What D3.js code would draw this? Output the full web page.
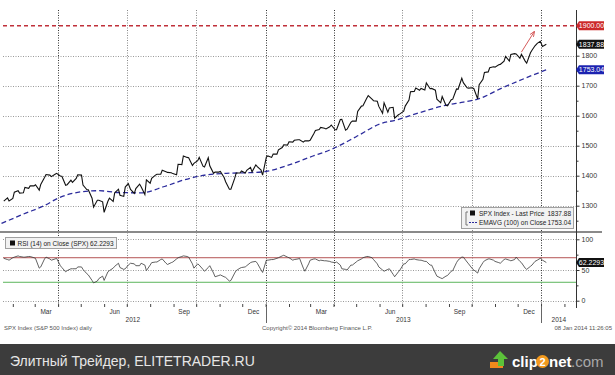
<!DOCTYPE html>
<html>
<head>
<meta charset="utf-8">
<script src="https://cdn.jsdelivr.net/npm/d3@7"></script>
<style>
  body { margin: 0; background: #fff; }
  svg { display: block; }
  text { font-family: "Liberation Sans", Arial, sans-serif; }
</style>
</head>
<body>
<svg id="chart" width="615" height="375"></svg>
<script>
// Friday closes
const dates = [
  "2012-01-20","2012-01-27","2012-02-03","2012-02-10","2012-02-17","2012-02-24","2012-03-02","2012-03-09","2012-03-16","2012-03-23",
  "2012-03-30","2012-04-06","2012-04-13","2012-04-20","2012-04-27","2012-05-04","2012-05-11","2012-05-18","2012-05-25","2012-06-01",
  "2012-06-08","2012-06-15","2012-06-22","2012-06-29","2012-07-06","2012-07-13","2012-07-20","2012-07-27","2012-08-03","2012-08-10",
  "2012-08-17","2012-08-24","2012-08-31","2012-09-07","2012-09-14","2012-09-21","2012-09-28","2012-10-05","2012-10-12","2012-10-19",
  "2012-10-26","2012-11-02","2012-11-09","2012-11-16","2012-11-23","2012-11-30","2012-12-07","2012-12-14","2012-12-21","2012-12-28",
  "2013-01-04","2013-01-11","2013-01-18","2013-01-25","2013-02-01","2013-02-08","2013-02-15","2013-02-22","2013-03-01","2013-03-08",
  "2013-03-15","2013-03-22","2013-03-29","2013-04-05","2013-04-12","2013-04-19","2013-04-26","2013-05-03","2013-05-10","2013-05-17",
  "2013-05-24","2013-05-31","2013-06-07","2013-06-14","2013-06-21","2013-06-28","2013-07-05","2013-07-12","2013-07-19","2013-07-26",
  "2013-08-02","2013-08-09","2013-08-16","2013-08-23","2013-08-30","2013-09-06","2013-09-13","2013-09-20","2013-09-27","2013-10-04",
  "2013-10-11","2013-10-18","2013-10-25","2013-11-01","2013-11-08","2013-11-15","2013-11-22","2013-11-29","2013-12-06","2013-12-13",
  "2013-12-20","2013-12-27","2014-01-03","2014-01-08"
];
const spx = [
  1315,1316,1345,1342,1361,1366,1370,1371,1404,1397,1408,1398,1370,1378,1403,1369,1353,1295,1318,1278,
  1325,1343,1335,1362,1354,1357,1363,1386,1391,1405,1418,1411,1407,1438,1466,1460,1441,1461,1429,1433,
  1412,1414,1380,1355,1409,1416,1418,1413,1430,1402,
  1466,1472,1486,1503,1513,1518,1520,1516,1518,1551,1561,1556,1569,1553,1588,1555,1582,1614,1633,1667,
  1650,1631,1643,1626,1592,1606,1632,1680,1692,1691,1709,1691,1655,1664,1633,1655,1688,1710,1692,1690,
  1703,1744,1760,1762,1771,1798,1804,1806,1805,1775,1818,1841,
  1831,1837.88
];
const rsi = [
  69,66,71,72,71,72,69,55,71,66,69,54,49,52,55,51,42,29,36,33,
  49,56,54,52,61,57,61,49,62,63,68,59,63,70,73,71,53,58,48,57,
  39,42,38,33,49,54,57,63,61,46,
  66,67,70,74,70,67,69,48,66,68,66,65,63,63,52,50,58,65,70,72,
  67,55,48,52,39,50,60,67,67,66,64,58,40,36,41,49,66,71,60,50,
  52,65,68,64,61,68,65,71,62,51,58,66,
  66,62.2293
];
// mid-week (Wednesday) readings
const midDates = [
  "2012-01-25","2012-02-01","2012-02-08","2012-02-15","2012-02-22","2012-02-29","2012-03-07","2012-03-14","2012-03-21","2012-03-28",
  "2012-04-04","2012-04-11","2012-04-18","2012-04-25","2012-05-02","2012-05-09","2012-05-16","2012-05-23","2012-05-30","2012-06-06",
  "2012-06-13","2012-06-20","2012-06-27","2012-07-03","2012-07-11","2012-07-18","2012-07-25","2012-08-01","2012-08-08","2012-08-15",
  "2012-08-22","2012-08-29","2012-09-05","2012-09-12","2012-09-19","2012-09-26","2012-10-03","2012-10-10","2012-10-17","2012-10-24",
  "2012-10-31","2012-11-07","2012-11-14","2012-11-21","2012-11-28","2012-12-05","2012-12-12","2012-12-19","2012-12-26","2013-01-02",
  "2013-01-09","2013-01-16","2013-01-23","2013-01-30","2013-02-06","2013-02-13","2013-02-20","2013-02-27","2013-03-06","2013-03-13",
  "2013-03-20","2013-03-27","2013-04-03","2013-04-10","2013-04-17","2013-04-24","2013-05-01","2013-05-08","2013-05-15","2013-05-22",
  "2013-05-29","2013-06-05","2013-06-12","2013-06-19","2013-06-26","2013-07-03","2013-07-10","2013-07-17","2013-07-24","2013-07-31",
  "2013-08-07","2013-08-14","2013-08-21","2013-08-28","2013-09-04","2013-09-11","2013-09-18","2013-09-25","2013-10-02","2013-10-09",
  "2013-10-16","2013-10-23","2013-10-30","2013-11-06","2013-11-13","2013-11-20","2013-11-27","2013-12-04","2013-12-11","2013-12-18",
  "2013-12-24","2013-12-31"
];
const spxMid = [
  1326,1324,1350,1343,1358,1366,1352,1394,1402,1405,1399,1368,1385,1391,1402,1354,1325,1318,1313,1315,
  1314,1355,1331,1374,1341,1372,1337,1375,1402,1405,1413,1410,1403,1437,1461,1434,1450,1432,1460,1408,
  1412,1394,1355,1391,1409,1409,1428,1436,1419,1462,
  1461,1472,1494,1502,1512,1520,1512,1516,1541,1554,1558,1563,1553,1587,1552,1578,1582,1632,1658,1655,
  1648,1608,1612,1628,1603,1615,1652,1681,1685,1686,1690,1685,1643,1635,1653,1689,1725,1693,1693,1656,
  1721,1746,1763,1770,1782,1782,1807,1792,1782,1810,1833,1848
];
const rsiMid = [
  67,70,73,71,72,70,53,68,68,68,57,47,52,52,55,44,33,32,40,47,
  53,61,51,58,60,57,58,58,63,67,61,62,68,72,72,60,60,51,54,45,
  41,39,32,45,53,55,62,64,50,66,
  67,69,73,71,66,68,53,60,68,65,65,64,62,58,51,58,63,68,72,70,
  60,50,51,43,47,60,67,68,66,64,58,45,37,40,48,62,71,63,52,45,
  62,68,66,62,67,66,67,64,53,56,64,69
];
// EMA(100) read at a few points along the dashed line
const emaDates = [
  "2012-01-17","2012-02-15","2012-03-15","2012-04-01","2012-05-01","2012-05-25","2012-06-20","2012-07-20","2012-08-20",
  "2012-09-15","2012-10-10","2012-11-10","2012-12-10","2013-01-01","2013-02-01","2013-03-01","2013-04-01","2013-05-01",
  "2013-06-01","2013-06-25","2013-07-25","2013-08-30","2013-09-20","2013-10-10","2013-11-10","2013-12-10","2014-01-08"
];
const ema = [
  1241,1272,1302,1325,1346,1350,1344,1343,1364,
  1386,1401,1408,1410,1414,1436,1462,1491,1530,
  1572,1587,1611,1636,1645,1656,1692,1724,1753.04
];

const priceTicks = [1300, 1400, 1500, 1600, 1700, 1800];
const priceMinor = [1250, 1350, 1450, 1550, 1650, 1750, 1850];
const rsiTicks = [0, 50, 100];
const rsiMinor = [25, 75];
const gridDates = ["2012-04-01","2012-07-01","2012-10-01","2013-01-01","2013-04-01","2013-07-01","2013-10-01","2014-01-01"];
const monthLabelDates = ["2012-03-16","2012-06-15","2012-09-15","2012-12-16","2013-03-16","2013-06-15","2013-09-15","2013-12-16"];
const yearLabels = ["2012", "2013", "2014"];
const yearStarts = ["2012-01-15", "2013-01-01", "2014-01-01", "2014-02-17"];

const target = 1900;
const lastPrice = 1837.88;
const lastEma = 1753.04;
const lastRsi = 62.2293;

const parse = d3.timeParse("%Y-%m-%d");
const svg = d3.select("#chart");

const axisX = 576.5, plotTop = 10, plotBottom = 306;
const x = d3.scaleTime().domain([parse("2012-01-15"), parse("2014-02-17")]).range([0, axisX]);
const yP = d3.scaleLinear().domain([1300, 1900]).range([205.7, 25.7]);
const yR = d3.scaleLinear().domain([0, 100]).range([300.7, 239.3]);

svg.append("rect").attr("width", 615).attr("height", 375).attr("fill", "#fff");

// horizontal grid, price panel
svg.append("g").selectAll("line").data(priceTicks).join("line")
  .attr("x1", 3).attr("x2", axisX)
  .attr("y1", d => Math.round(yP(d)) + 0.5).attr("y2", d => Math.round(yP(d)) + 0.5)
  .attr("stroke", "#9a9a9a").attr("stroke-dasharray", "1,1.5");

// horizontal grid, rsi panel
svg.append("g").selectAll("line").data(rsiTicks).join("line")
  .attr("x1", 3).attr("x2", axisX)
  .attr("y1", d => Math.round(yR(d)) + 0.5).attr("y2", d => Math.round(yR(d)) + 0.5)
  .attr("stroke", "#9a9a9a").attr("stroke-dasharray", "1,1.5");

// vertical grid at quarter starts
svg.append("g").selectAll("line").data(gridDates).join("line")
  .attr("x1", d => Math.round(x(parse(d))) + 0.5).attr("x2", d => Math.round(x(parse(d))) + 0.5)
  .attr("y1", plotTop).attr("y2", plotBottom)
  .attr("stroke", d => d.endsWith("01-01") || d.endsWith("04-01") ? "#333" : "#888")
  .attr("stroke-dasharray", "1,1.5");

// overbought / oversold levels
svg.append("line").attr("x1", 3).attr("x2", axisX)
  .attr("y1", yR(70)).attr("y2", yR(70)).attr("stroke", "#b45454").attr("stroke-width", 1);
svg.append("line").attr("x1", 3).attr("x2", axisX)
  .attr("y1", yR(30)).attr("y2", yR(30)).attr("stroke", "#5bb55b").attr("stroke-width", 1);

// 1900 target line
svg.append("line").attr("x1", 3).attr("x2", axisX)
  .attr("y1", yP(target)).attr("y2", yP(target))
  .attr("stroke", "#c0303a").attr("stroke-width", 1.6).attr("stroke-dasharray", "4,3");

// EMA
const emaData = emaDates.map((d, i) => ({ date: parse(d), v: ema[i] }));
svg.append("path").datum(emaData)
  .attr("fill", "none").attr("stroke", "#2c2c9c").attr("stroke-width", 1.3)
  .attr("stroke-dasharray", "5,3")
  .attr("d", d3.line().x(d => x(d.date)).y(d => yP(d.v)).curve(d3.curveMonotoneX));

// price: Friday and mid-week readings merged in time order
const priceData = dates.map((d, i) => ({ date: parse(d), v: spx[i] }))
  .concat(midDates.map((d, i) => ({ date: parse(d), v: spxMid[i] })))
  .sort((a, b) => a.date - b.date);
svg.append("path").datum(priceData)
  .attr("fill", "none").attr("stroke", "#111").attr("stroke-width", 1.1)
  .attr("stroke-linejoin", "miter")
  .attr("d", d3.line().x(d => x(d.date)).y(d => yP(d.v)));

// rsi
const rsiData = dates.map((d, i) => ({ date: parse(d), v: rsi[i] }))
  .concat(midDates.map((d, i) => ({ date: parse(d), v: rsiMid[i] })))
  .sort((a, b) => a.date - b.date);
svg.append("path").datum(rsiData)
  .attr("fill", "none").attr("stroke", "#3a3a3a").attr("stroke-width", 0.8)
  .attr("d", d3.line().x(d => x(d.date)).y(d => yR(d.v)));

// red arrow toward the target
svg.append("defs").append("marker")
  .attr("id", "ah").attr("viewBox", "0 0 10 10").attr("refX", 9).attr("refY", 5)
  .attr("markerWidth", 6).attr("markerHeight", 6).attr("orient", "auto")
  .append("path").attr("d", "M0,1 L10,5 L0,9").attr("fill", "none").attr("stroke", "#d04848").attr("stroke-width", 1.5);
svg.append("line")
  .attr("x1", x(parse("2013-12-06"))).attr("y1", yP(1812))
  .attr("x2", x(parse("2013-12-23"))).attr("y2", yP(1880))
  .attr("stroke", "#d04848").attr("stroke-width", 0.9).attr("marker-end", "url(#ah)");

// panel separator
svg.append("line").attr("x1", 0).attr("x2", 602).attr("y1", 232).attr("y2", 232)
  .attr("stroke", "#8a8a8a").attr("stroke-width", 2);

// right axis line
svg.append("line").attr("x1", axisX).attr("x2", axisX).attr("y1", plotTop).attr("y2", plotBottom + 2)
  .attr("stroke", "#333");

function styleAxis(g) {
  g.select(".domain").remove();
  g.selectAll(".tick line").attr("stroke", "#333");
  g.selectAll(".tick text").attr("fill", "#333").attr("font-size", 7).attr("x", 5);
}
svg.append("g").attr("transform", `translate(${axisX},0)`)
  .call(d3.axisRight(yP).tickValues(priceTicks).tickSize(3).tickFormat(d3.format("d"))).call(styleAxis);
svg.append("g").attr("transform", `translate(${axisX},0)`)
  .call(d3.axisRight(yP).tickValues(priceMinor).tickSize(2).tickFormat("")).call(styleAxis);
svg.append("g").attr("transform", `translate(${axisX},0)`)
  .call(d3.axisRight(yR).tickValues(rsiTicks).tickSize(3).tickFormat(d3.format("d"))).call(styleAxis);
svg.append("g").attr("transform", `translate(${axisX},0)`)
  .call(d3.axisRight(yR).tickValues(rsiMinor).tickSize(2).tickFormat("")).call(styleAxis);

// bottom time axis: month ticks
svg.append("g").attr("transform", `translate(0,${plotBottom - 2})`)
  .call(d3.axisBottom(x).ticks(d3.timeMonth.every(1)).tickSize(3).tickFormat(""))
  .call(g => { g.select(".domain").remove(); g.selectAll(".tick line").attr("stroke", "#444"); });

// year boundaries
svg.append("g").selectAll("line").data(yearStarts.slice(1, 3)).join("line")
  .attr("x1", d => Math.round(x(parse(d))) + 0.5).attr("x2", d => Math.round(x(parse(d))) + 0.5)
  .attr("y1", plotBottom).attr("y2", 323).attr("stroke", "#666");

svg.append("g").selectAll("text").data(monthLabelDates).join("text")
  .attr("x", d => x(parse(d))).attr("y", 314)
  .attr("text-anchor", "middle").attr("font-size", 6.5).attr("fill", "#333")
  .text(d => d3.timeFormat("%b")(parse(d)));

svg.append("g").selectAll("text").data(yearLabels).join("text")
  .attr("x", (d, i) => (x(parse(yearStarts[i])) + x(parse(yearStarts[i + 1]))) / 2).attr("y", 322)
  .attr("text-anchor", "middle").attr("font-size", 6.5).attr("fill", "#333")
  .text(d => d);

// value tags on the right
function tag(yv, label, color) {
  const g = svg.append("g").attr("transform", `translate(578,${yv})`);
  g.append("path").attr("d", "M-2,0 L1,-4.5 L26,-4.5 L26,4.5 L1,4.5 Z").attr("fill", color);
  g.append("text").attr("x", 13.5).attr("y", 2.5).attr("text-anchor", "middle")
    .attr("font-size", 7).attr("fill", "#fff").text(label);
}
tag(yP(target), d3.format(".2f")(target), "#cc2a2a");
tag(yP(lastPrice), d3.format(".2f")(lastPrice), "#111");
tag(yP(lastEma), d3.format(".2f")(lastEma), "#1c23b0");
tag(yR(lastRsi), d3.format(".4f")(lastRsi), "#111");

// price legend
const lg = svg.append("g");
lg.append("rect").attr("x", 461.5).attr("y", 207.5).attr("width", 112).attr("height", 21)
  .attr("fill", "#f2f2f2").attr("stroke", "#a0a0a0");
lg.append("path").attr("d", "M468,212 L466,212 L466,225 L468,225").attr("fill", "none").attr("stroke", "#777");
lg.append("rect").attr("x", 470).attr("y", 210.5).attr("width", 5).attr("height", 5).attr("fill", "#111");
lg.append("line").attr("x1", 469).attr("x2", 477).attr("y1", 222.5).attr("y2", 222.5)
  .attr("stroke", "#2c2c9c").attr("stroke-dasharray", "2,1");
lg.append("text").attr("x", 479).attr("y", 216).attr("font-size", 6.5).attr("fill", "#222").text("SPX Index - Last Price");
lg.append("text").attr("x", 571).attr("y", 216).attr("font-size", 6.5).attr("fill", "#222").attr("text-anchor", "end").text(d3.format(".2f")(lastPrice));
lg.append("text").attr("x", 479).attr("y", 224.5).attr("font-size", 6.5).attr("fill", "#222").text("EMAVG (100) on Close");
lg.append("text").attr("x", 571).attr("y", 224.5).attr("font-size", 6.5).attr("fill", "#222").attr("text-anchor", "end").text(d3.format(".2f")(lastEma));

// rsi legend
const rl = svg.append("g");
rl.append("rect").attr("x", 5.5).attr("y", 237.5).attr("width", 111).attr("height", 11)
  .attr("fill", "#f2f2f2").attr("stroke", "#a0a0a0");
rl.append("rect").attr("x", 10).attr("y", 240.5).attr("width", 5).attr("height", 5).attr("fill", "#111");
rl.append("text").attr("x", 17.5).attr("y", 245.5).attr("font-size", 6.5).attr("fill", "#222")
  .text("RSI (14) on Close (SPX) " + d3.format(".4f")(lastRsi));

// footer notes
svg.append("text").attr("x", 4).attr("y", 330).attr("font-size", 6).attr("fill", "#555")
  .text("SPX Index (S&P 500 Index) daily");
svg.append("text").attr("x", 262).attr("y", 330).attr("font-size", 6).attr("fill", "#555")
  .text("Copyright© 2014 Bloomberg Finance L.P.");
svg.append("text").attr("x", 612).attr("y", 330).attr("font-size", 6).attr("fill", "#555").attr("text-anchor", "end")
  .text("08 Jan 2014 11:26:05");

// watermark bar
svg.append("rect").attr("x", 0).attr("y", 344).attr("width", 615).attr("height", 31).attr("fill", "#3c3c3c");
svg.append("text").attr("x", 10).attr("y", 366).attr("font-size", 14)
  .attr("font-family", "DejaVu Sans, sans-serif").attr("fill", "#e6e6e6")
  .text("Элитный Трейдер, ELITETRADER.RU");

const logo = svg.append("g");
logo.append("rect").attr("x", 490).attr("y", 362).attr("width", 13).attr("height", 6).attr("fill", "#f08a1c");
logo.append("path").attr("d", "M500,351 L508,359 L504,359 L504,366 L498,366 L498,359 L493,359 Z")
  .attr("fill", "#5cc23a");
logo.append("text").attr("x", 512).attr("y", 367).attr("font-size", 15).attr("font-weight", "bold")
  .attr("fill", "#fff").text("clip");
logo.append("circle").attr("cx", 542.5).attr("cy", 361.5).attr("r", 6.5).attr("fill", "#f39a1e");
logo.append("text").attr("x", 542.5).attr("y", 365.5).attr("font-size", 11).attr("font-weight", "bold")
  .attr("fill", "#fff").attr("text-anchor", "middle").text("2");
logo.append("text").attr("x", 549).attr("y", 367).attr("font-size", 15).attr("font-weight", "bold")
  .attr("fill", "#fff").text("net");
logo.append("text").attr("x", 571).attr("y", 367).attr("font-size", 15)
  .attr("fill", "#a8a8a8").text(".com");
</script>
</body>
</html>
